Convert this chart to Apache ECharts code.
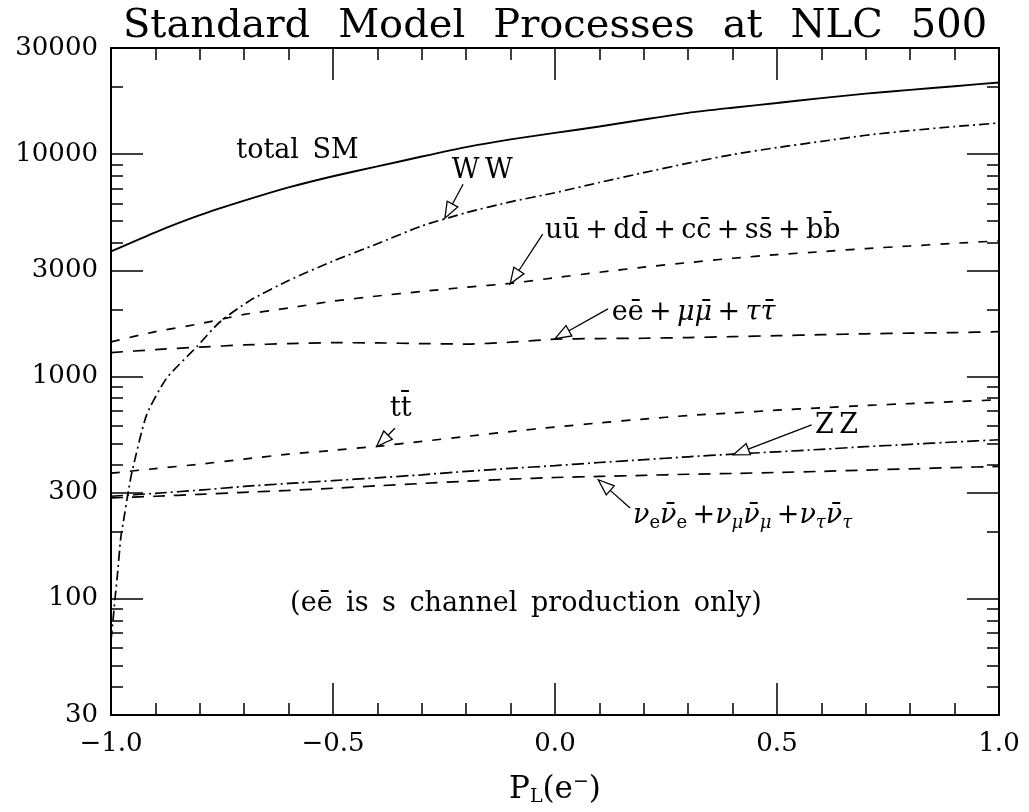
<!DOCTYPE html>
<html><head><meta charset="utf-8">
<script src="https://cdn.jsdelivr.net/npm/echarts@6/dist/echarts.min.js"></script>
<style>html,body{margin:0;padding:0;background:#fff}#c{width:1029px;height:812px}</style>
</head><body><div id="c"></div>
<script>
// ---------------- data ----------------
const pGrid   = [-1.0,-0.9,-0.8,-0.7,-0.6,-0.5,-0.4,-0.3,-0.2,-0.1,0.0,0.1,0.2,0.3,0.4,0.5,0.6,0.7,0.8,0.9,1.0];
const totalSM = [3650,4450,5310,6170,7080,7950,8800,9750,10750,11650,12450,13300,14300,15330,16160,16980,17850,18700,19450,20200,20990];
const qqbar   = [1430,1590,1725,1900,2030,2180,2300,2410,2520,2620,2780,2940,3100,3250,3400,3530,3640,3760,3860,3970,4070];
const llbar   = [1280,1320,1355,1385,1405,1418,1415,1405,1398,1425,1470,1480,1485,1495,1510,1525,1540,1555,1565,1575,1590];
const ttbar   = [367,385,403,425,447,465,485,510,537,565,592,618,643,667,685,705,723,740,755,770,785];
const zz      = [289,298,308,320,330,340,350,361,374,386,397,410,422,435,447,458,470,483,495,507,519];
const nunubar = [284,289,295,301,307,314,322,330,338,345,351,355,359,363,366,370,374,379,384,389,394];
const wwP     = [-1.0,-0.995,-0.991,-0.986,-0.978,-0.972,-0.961,-0.953,-0.92,-0.875,-0.807,-0.755,-0.687,-0.6,-0.5,-0.4,-0.3,-0.2,-0.1,0.0,0.1,0.2,0.3,0.4,0.5,0.6,0.7,0.8,0.9,1.0];
const wwVal   = [65,82,100,125,188,223,304,370,670,980,1358,1757,2195,2700,3300,3950,4750,5450,6100,6700,7450,8250,9100,9950,10700,11400,12150,12750,13300,13800];
const yMajorTicks = [30,100,300,1000,3000,10000,30000];
const yMinorTicks = [40,50,60,70,80,90,200,400,500,600,700,800,900,2000,4000,5000,6000,7000,8000,9000,20000];
const xMin = -1, xMax = 1, xStep = 0.5;

// annotation anchors in data coordinates [P, value]
const labels = [
  {key:'total', at:[-0.58,10300], align:'center'},
  {key:'ww',    at:[-0.164,8360], align:'center'},
  {key:'qq',    at:[-0.0225,4500], align:'left'},
  {key:'ll',    at:[0.1277,1933], align:'left'},
  {key:'tt',    at:[-0.3716,711], align:'left'},
  {key:'zz',    at:[0.5856,597], align:'left'},
  {key:'nn',    at:[0.1757,236], align:'left'},
  {key:'note',  at:[-0.0653,95.2], align:'center'}
];
const arrows = [
  {from:[-0.207,7313], to:[-0.248,5150]},
  {from:[-0.0277,4368], to:[-0.101,2607]},
  {from:[0.1194,2014], to:[0.0,1479]},
  {from:[-0.3604,585], to:[-0.4016,484]},
  {from:[0.578,605], to:[0.4016,444]},
  {from:[0.169,256], to:[0.0975,343]}
];

// ---------------- chart ----------------
const FONT = 'DejaVu Serif';
const chart = echarts.init(document.getElementById('c'), null, {renderer:'canvas'});
const pair = (xs, ys) => xs.map((x,i)=>[x, ys[i]]);
const fmtX = v => (v < 0 ? '\u2212' : '') + Math.abs(v).toFixed(1);
const baseX = (pos, show) => ({
  type:'value', min:xMin, max:xMax, interval:xStep, position:pos,
  axisLine:{show:true, onZero:false, lineStyle:{color:'#000', width:2}},
  axisTick:{show:true, inside:true, length:32, lineStyle:{color:'#000', width:1.5}},
  minorTick:{show:true, splitNumber:5, length:12, lineStyle:{color:'#000', width:1.5}},
  splitLine:{show:false}, minorSplitLine:{show:false},
  axisLabel:{show:show, formatter:fmtX, fontFamily:FONT, fontSize:26, color:'#000', margin:16}
});
const baseY = (pos, ticks, len, showLabel) => ({
  type:'log', min:30, max:30000, logBase:10, position:pos,
  axisLine:{show:true, onZero:false, lineStyle:{color:'#000', width:2}},
  axisTick:{show:true, inside:true, length:len, customValues:ticks, lineStyle:{color:'#000', width:1.5}},
  splitLine:{show:false},
  axisLabel:{show:showLabel, customValues:ticks, formatter:v=>String(Math.round(v)), fontFamily:FONT, fontSize:26, color:'#000', margin:13}
});
const xBottom = baseX('bottom', true);
xBottom.name = '{p|P}{sub|L}{p|(e}{sup|\u2212}{p|)}';
xBottom.nameLocation = 'middle';
xBottom.nameGap = 58;
xBottom.nameTextStyle = {color:'#000', fontFamily:FONT, rich:{
  p:{fontFamily:FONT, fontSize:31, color:'#000', lineHeight:34},
  sub:{fontFamily:FONT, fontSize:19, color:'#000', lineHeight:10, verticalAlign:'bottom'},
  sup:{fontFamily:FONT, fontSize:19, color:'#000', lineHeight:12, verticalAlign:'top'}
}};
const lineSeries = (name, data, dash, width) => ({
  name, type:'line', data, xAxisIndex:0, yAxisIndex:0, showSymbol:false, symbol:'none',
  smooth:0.2, silent:true,
  lineStyle:{color:'#000', width:width||1.7, type:dash}
});
chart.setOption({
  animation:false,
  backgroundColor:'#fff',
  title:{text:'Standard\u2002\u2009Model\u2002\u2009Processes\u2002\u2009at\u2002\u2009NLC\u2002\u2009500',
    left:550, top:2, textAlign:'center',
    textStyle:{fontFamily:FONT, fontSize:40, fontWeight:'normal', color:'#000'}},
  grid:{left:111, top:48, right:30, bottom:94, containLabel:false},
  xAxis:[xBottom, baseX('top', false)],
  yAxis:[baseY('left', yMajorTicks, 32, true), baseY('left', yMinorTicks, 12, false),
         baseY('right', yMajorTicks, 32, false), baseY('right', yMinorTicks, 12, false)],
  series:[
    lineSeries('total SM', pair(pGrid,totalSM), 'solid', 1.9),
    lineSeries('W W', pair(wwP,wwVal), [10,4,2,4]),
    lineSeries('qq', pair(pGrid,qqbar), [9,10]),
    lineSeries('ll', pair(pGrid,llbar), [12,10]),
    lineSeries('tt', pair(pGrid,ttbar), [9,10]),
    lineSeries('ZZ', pair(pGrid,zz), [12,4,2,4]),
    lineSeries('nunu', pair(pGrid,nunubar), [12,9])
  ]
});

// ---------------- annotations ----------------
const toPx = d => chart.convertToPixel({xAxisIndex:0, yAxisIndex:0}, d);
const M = '\u0304', T = '\u2009', W = '\u2002';
const rich = {
  a:{fontFamily:FONT, fontSize:27, color:'#000', lineHeight:32},
  g:{fontFamily:FONT, fontSize:27, fontStyle:'italic', color:'#000', lineHeight:32},
  s:{fontFamily:FONT, fontSize:18, color:'#000', lineHeight:10, verticalAlign:'bottom'},
  gs:{fontFamily:FONT, fontSize:18, fontStyle:'italic', color:'#000', lineHeight:10, verticalAlign:'bottom'}
};
const texts = {
  total:'{a|total'+W+'SM}',
  ww:'{a|W'+T+'W}',
  qq:'{a|u\u016B'+T+'+'+T+'dd'+M+T+'+'+T+'cc'+M+T+'+'+T+'ss'+M+T+'+'+T+'bb'+M+'}',
  ll:'{a|e\u0113'+T+'+'+T+'}{g|\u03BC\u03BC'+M+'}{a|'+T+'+'+T+'}{g|\u03C4\u03C4'+M+'}',
  tt:'{a|tt'+M+'}',
  zz:'{a|Z'+T+'Z}',
  nn:'{g|\u03BD}{s|e}{g|\u03BD'+M+'}{s|e}{a|'+T+'+}{g|\u03BD}{gs|\u03BC}{g|\u03BD'+M+'}{gs|\u03BC}{a|'+T+'+}{g|\u03BD}{gs|\u03C4}{g|\u03BD'+M+'}{gs|\u03C4}',
  note:'{a|(e\u0113'+W+'is'+W+'s'+W+'channel'+W+'production'+W+'only)}'
};
const g = [];
labels.forEach(l => {
  const p = toPx(l.at);
  g.push({type:'text', x:p[0], y:p[1], silent:true, z:10,
    style:{text:texts[l.key], rich, align:l.align, verticalAlign:'middle',
           textAlign:l.align, textVerticalAlign:'middle', fill:'#000'}});
});
arrows.forEach(a => {
  const f = toPx(a.from), t = toPx(a.to);
  const dx = t[0]-f[0], dy = t[1]-f[1], L = Math.hypot(dx,dy);
  const ux = dx/L, uy = dy/L, hl = 16, hw = 6;
  const bx = t[0]-ux*hl, by = t[1]-uy*hl;
  g.push({type:'line', silent:true, z:10, shape:{x1:f[0], y1:f[1], x2:bx, y2:by}, style:{stroke:'#000', lineWidth:1.3}});
  g.push({type:'polygon', silent:true, z:10, shape:{points:[[t[0],t[1]],[bx-uy*hw,by+ux*hw],[bx+uy*hw,by-ux*hw]]},
    style:{fill:'#fff', stroke:'#000', lineWidth:1.3}});
});
chart.setOption({graphic:g});
</script></body></html>
